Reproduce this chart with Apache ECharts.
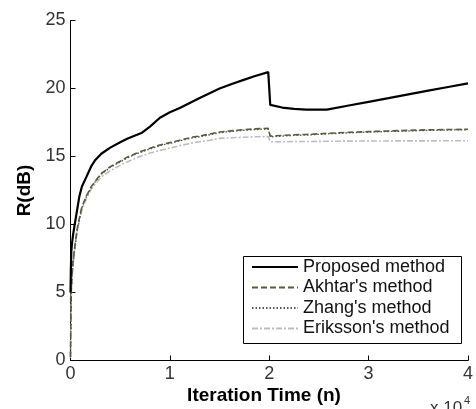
<!DOCTYPE html>
<html>
<head>
<meta charset="utf-8">
<script src="https://cdn.jsdelivr.net/npm/echarts@6/dist/echarts.min.js"></script>
<style>
  html, body { margin: 0; padding: 0; background: #fff; }
  #chart { width: 476px; height: 409px; }
</style>
</head>
<body>
<div id="chart"></div>
<script>
// Iteration index shared by all curves
const iterations = [0, 40, 80, 150, 250, 400, 650, 900, 1150, 1600,
  2100, 2500, 3100, 4000, 5000, 5700, 6500, 7200, 8000, 9000,
  10000, 11000, 12300, 13000, 14000, 15000, 16300, 17500, 18500, 19900,
  20100, 21300, 22500, 23700, 25800, 28000, 30000, 32000, 34000, 36000,
  38000, 40000];

// R (dB) per method
const proposed = [5.0, 6.8, 8.0, 8.6, 9.2, 9.9, 11.0, 12.1, 12.8, 13.5,
  14.3, 14.75, 15.2, 15.65, 16.05, 16.3, 16.55, 16.75, 17.2, 17.85,
  18.25, 18.57, 19.05, 19.3, 19.65, 20.0, 20.35, 20.65, 20.9, 21.2,
  18.8, 18.6, 18.5, 18.45, 18.45, 18.75, 19.02, 19.29, 19.57, 19.84,
  20.11, 20.38];
const akhtar = [0.3, 3.2, 5.2, 6.3, 7.2, 8.2, 9.6, 10.5, 11.3, 12.1,
  12.8, 13.2, 13.75, 14.25, 14.65, 14.95, 15.2, 15.4, 15.6, 15.85,
  16.02, 16.2, 16.43, 16.5, 16.65, 16.8, 16.9, 16.98, 17.03, 17.07,
  16.5, 16.55, 16.6, 16.62, 16.7, 16.78, 16.83, 16.88, 16.92, 16.96,
  16.98, 17.0];
const zhang = [0.25, 3.1, 5.1, 6.2, 7.1, 8.1, 9.5, 10.4, 11.25, 12.05,
  12.75, 13.15, 13.7, 14.2, 14.6, 14.9, 15.15, 15.35, 15.55, 15.8,
  15.97, 16.15, 16.38, 16.45, 16.6, 16.75, 16.85, 16.93, 16.98, 17.02,
  16.45, 16.5, 16.55, 16.58, 16.66, 16.74, 16.79, 16.84, 16.88, 16.92,
  16.95, 16.97];
const eriksson = [0.2, 3.0, 5.0, 6.1, 7.0, 8.0, 9.4, 10.3, 11.1, 11.9,
  12.6, 13.0, 13.5, 13.95, 14.35, 14.6, 14.85, 15.05, 15.25, 15.45,
  15.62, 15.8, 16.0, 16.08, 16.2, 16.33, 16.38, 16.42, 16.45, 16.46,
  16.08, 16.08, 16.1, 16.1, 16.12, 16.13, 16.14, 16.14, 16.15, 16.15,
  16.16, 16.16];

const methodNames = ['Proposed method', "Akhtar's method", "Zhang's method", "Eriksson's method"];
const yTicks = [0, 5, 10, 15, 20, 25];
const xTickScale = 10000;

const pairs = ys => iterations.map((x, i) => [x, ys[i]]);

const chart = echarts.init(document.getElementById('chart'), null, { renderer: 'canvas' });

const axisCommon = {
  axisLine: { show: true, lineStyle: { color: '#000', width: 1 } },
  axisTick: { show: true, inside: true, length: 5, lineStyle: { color: '#000', width: 1 } },
  splitLine: { show: false },
};

chart.setOption({
  animation: false,
  backgroundColor: '#fff',
  textStyle: { fontFamily: 'Liberation Sans, Arial, sans-serif' },
  grid: { left: 70.5, right: 4.5, top: 20.5, bottom: 48.5, containLabel: false },
  xAxis: Object.assign({
    type: 'value', min: 0, max: 40000, interval: 10000,
    axisLabel: {
      margin: 5, fontSize: 18, color: '#333',
      fontFamily: 'Liberation Sans, Arial, sans-serif',
      formatter: v => String(v / xTickScale)
    }
  }, axisCommon),
  yAxis: Object.assign({
    type: 'value', min: yTicks[0], max: yTicks[yTicks.length - 1], interval: 5,
    axisLabel: {
      margin: 5, fontSize: 18, color: '#333',
      fontFamily: 'Liberation Sans, Arial, sans-serif'
    }
  }, axisCommon),
  legend: {
    orient: 'vertical', left: 251, top: 258,
    padding: 0, itemWidth: 46, itemHeight: 14, itemGap: 2.5,
    data: methodNames,
    itemStyle: { opacity: 0 },
    textStyle: { fontSize: 18, color: '#111', fontFamily: 'Liberation Sans, Arial, sans-serif' }
  },
  graphic: [
    { type: 'rect', shape: { x: 243.5, y: 256.5, width: 218, height: 87 },
      style: { fill: 'transparent', stroke: '#000', lineWidth: 1 }, z: 5 },
    { type: 'text', x: 25, y: 190.5, rotation: Math.PI / 2,
      style: { text: 'R(dB)', font: 'bold 19px Liberation Sans, Arial, sans-serif',
        fill: '#000', textAlign: 'center', textVerticalAlign: 'middle' } },
    { type: 'text', x: 264, y: 396,
      style: { text: 'Iteration Time (n)', font: 'bold 19px Liberation Sans, Arial, sans-serif',
        fill: '#000', textAlign: 'center', textVerticalAlign: 'middle' } },
    { type: 'text', x: 430, y: 400,
      style: { text: 'x 10', font: '17px Liberation Sans, Arial, sans-serif',
        fill: '#333', textAlign: 'left', textVerticalAlign: 'top' } },
    { type: 'text', x: 464, y: 395,
      style: { text: '4', font: '11px Liberation Sans, Arial, sans-serif',
        fill: '#333', textAlign: 'left', textVerticalAlign: 'top' } }
  ],
  series: [
    { name: methodNames[3], type: 'line', data: pairs(eriksson), symbol: 'none', z: 2,
      lineStyle: { color: '#bdbdbd', width: 1.6, type: [6, 2, 2, 2] }, itemStyle: { color: '#bdbdbd' } },
    { name: methodNames[2], type: 'line', data: pairs(zhang), symbol: 'none', z: 3,
      lineStyle: { color: '#555', width: 1.4, type: [1.5, 2] }, itemStyle: { color: '#555' } },
    { name: methodNames[1], type: 'line', data: pairs(akhtar), symbol: 'none', z: 4,
      lineStyle: { color: '#5a5a3c', width: 1.6, type: [6, 3] }, itemStyle: { color: '#5a5a3c' } },
    { name: methodNames[0], type: 'line', data: pairs(proposed), symbol: 'none', z: 5,
      lineStyle: { color: '#000', width: 2.2, type: 'solid' }, itemStyle: { color: '#000' } }
  ]
});
</script>
</body>
</html>
